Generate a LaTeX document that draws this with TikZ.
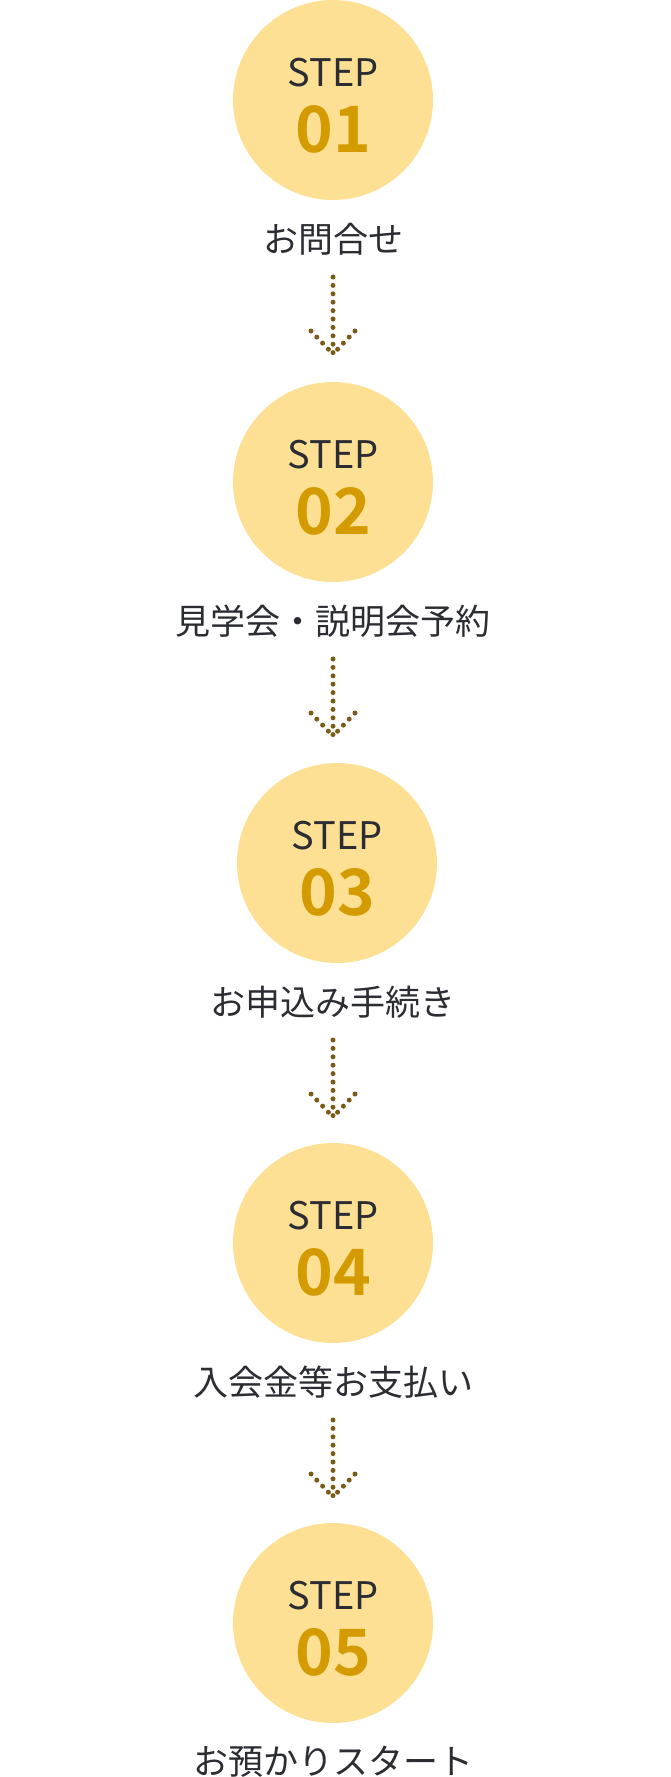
\documentclass[tikz,border=0pt]{standalone}
\usepackage{fontspec}
\setmainfont{Noto Sans CJK JP}
\newfontfamily\jpb{Noto Sans CJK JP Bold}
\definecolor{circ}{HTML}{FDE093}
\definecolor{num}{HTML}{D49B00}
\definecolor{ink}{HTML}{2B2D33}
\definecolor{dot}{HTML}{7A5C16}
\tikzset{
  stepc/.style={circle,fill=circ,minimum size=200pt,inner sep=0pt},
  steptxt/.style={text=ink,font=\fontsize{38}{40}\selectfont,inner sep=0pt},
  numtxt/.style={text=num,font=\jpb\fontsize{64}{66}\selectfont,inner sep=0pt},
  lab/.style={text=ink,font=\fontsize{35}{38}\selectfont,inner sep=0pt},
  dots/.style={dot,line width=5pt,line cap=round,dash pattern=on 0pt off 8.4pt}
}
\begin{document}
\begin{tikzpicture}[x=1pt,y=-1pt]
\useasboundingbox (0,0) rectangle (670,1777);
\foreach \i/\y/\dx/\t in {1/100/0/お問合せ,2/482/0/見学会・説明会予約,3/863/4/お申込み手続き,4/1243/0/入会金等お支払い,5/1623/0/お預かりスタート}{
  \node[stepc] (c\i) at (333+\dx,\y) {};
  \node[steptxt] (s\i) at (333+\dx,\y-27) {STEP};
  \node[numtxt] (n\i) at (333+\dx,\y+29) {0\i};
  \node[lab] (l\i) at (333,\y+139) {\t};
}
\foreach \i/\y in {1/100,2/482,3/863,4/1243}{
  \coordinate (a\i) at (333,\y+177);
  \coordinate (t\i) at (333,\y+254);
  \coordinate (hl\i) at (311,\y+231);
  \coordinate (hr\i) at (355,\y+231);
  \draw[dots] (a\i) -- (t\i);
  \draw[dots] (hl\i) -- (t\i);
  \draw[dots] (hr\i) -- (t\i);
}
\end{tikzpicture}
\end{document}
